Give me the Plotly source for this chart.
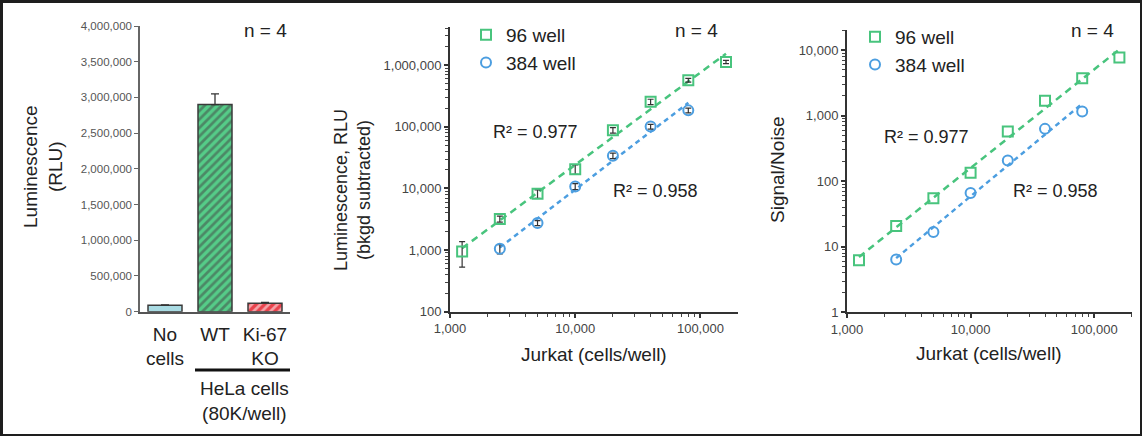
import numpy as np
import plotly.graph_objects as go

W, H = 1142, 436


def px(x):
    return x / W


def py(y):
    return 1 - y / H


FONT = "Liberation Sans, Arial, sans-serif"
TXT = "#222222"

# ---------------- data ----------------
# Panel A: HeLa bar chart
bar_categories = ["No<br>cells", "WT", "Ki-67<br>KO"]
bar_values = [90000, 2900000, 120000]
bar_errors = [6000, 150000, 10000]
bar_yticks = [0, 500000, 1000000, 1500000, 2000000, 2500000, 3000000, 3500000, 4000000]
bar_yticklabels = ["0", "500,000", "1,000,000", "1,500,000", "2,000,000",
                   "2,500,000", "3,000,000", "3,500,000", "4,000,000"]

# Panel B: Jurkat luminescence (bkgd subtracted)
cells_96 = [1250, 2500, 5000, 10000, 20000, 40000, 80000, 160000]
lum_96 = [950, 3200, 8200, 20500, 88000, 255000, 570000, 1130000]
lum_96_err = [420, 350, 1300, 3500, 9000, 25000, 40000, 70000]
cells_384 = [2500, 5000, 10000, 20000, 40000, 80000]
lum_384 = [1050, 2750, 10800, 34000, 101000, 185000]
lum_384_err = [180, 250, 1200, 3500, 9000, 16000]

# Panel C: Signal / Noise
sn_96 = [6.2, 20.7, 55, 134, 570, 1690, 3700, 7700]
sn_384 = [6.4, 16.8, 66, 207, 627, 1150]

x_ticks = [1000, 10000, 100000]
x_ticklabels = ["1,000", "10,000", "100,000"]
lum_ticks = [100, 1000, 10000, 100000, 1000000]
lum_ticklabels = ["100", "1,000", "10,000", "100,000", "1,000,000"]
sn_ticks = [1, 10, 100, 1000, 10000]
sn_ticklabels = ["1", "10", "100", "1,000", "10,000"]

series_names = ["96 well", "384 well"]
r2_96 = "R² = 0.977"
r2_384 = "R² = 0.958"

GREEN = "#48c47d"
BLUE = "#4c9ee0"


def fit_line(x, y):
    lx, ly = np.log10(x), np.log10(y)
    k, b = np.polyfit(lx, ly, 1)
    xs = np.array([min(x), max(x)], dtype=float)
    return xs, 10 ** (k * np.log10(xs) + b)


fig = go.Figure()

# ---------------- Panel A ----------------
fig.add_trace(go.Bar(
    x=bar_categories, y=bar_values, width=0.68, xaxis="x", yaxis="y",
    showlegend=False,
    marker=dict(color=["#a9dbe3", "#55cc88", "#e8424c"],
                line=dict(color="#3a3a3a", width=1.5),
                pattern=dict(shape=["", "/", "/"], fgcolor="white", size=6, solidity=0.45)),
    error_y=dict(type="data", array=bar_errors, arrayminus=[0, 0, 0], symmetric=False,
                 color="#333", thickness=1.3, width=4),
))

# ---------------- trend lines ----------------
for xs_, ys_, col, dash, ax in [(cells_96, lum_96, GREEN, "7px,5px", "2"),
                                (cells_384, lum_384, BLUE, "5px,4px", "2"),
                                (cells_96, sn_96, GREEN, "7px,5px", "3"),
                                (cells_384, sn_384, BLUE, "5px,4px", "3")]:
    lx, ly = fit_line(xs_, ys_)
    fig.add_trace(go.Scatter(x=lx, y=ly, mode="lines", showlegend=False,
                             line=dict(color=col, width=2.5, dash=dash),
                             xaxis="x" + ax, yaxis="y" + ax, hoverinfo="skip"))

# ---------------- Panel B ----------------
fig.add_trace(go.Scatter(
    x=cells_96, y=lum_96, mode="markers", name=series_names[0], legend="legend",
    xaxis="x2", yaxis="y2",
    marker=dict(symbol="square-open", size=10, color=GREEN, line=dict(width=2)),
    error_y=dict(type="data", array=lum_96_err, color="#333", thickness=1.2, width=3)))
fig.add_trace(go.Scatter(
    x=cells_384, y=lum_384, mode="markers", name=series_names[1], legend="legend",
    xaxis="x2", yaxis="y2",
    marker=dict(symbol="circle-open", size=10, color=BLUE, line=dict(width=2)),
    error_y=dict(type="data", array=lum_384_err, color="#333", thickness=1.2, width=3)))

# ---------------- Panel C ----------------
fig.add_trace(go.Scatter(
    x=cells_96, y=sn_96, mode="markers", name=series_names[0], legend="legend2",
    xaxis="x3", yaxis="y3",
    marker=dict(symbol="square-open", size=10, color=GREEN, line=dict(width=2))))
fig.add_trace(go.Scatter(
    x=cells_384, y=sn_384, mode="markers", name=series_names[1], legend="legend2",
    xaxis="x3", yaxis="y3",
    marker=dict(symbol="circle-open", size=10, color=BLUE, line=dict(width=2))))


def log_axis(rng, dom, anchor, tv, tt):
    return dict(type="log", range=rng, domain=dom, anchor=anchor, automargin=False,
                showline=True, linecolor="#333", linewidth=2, mirror=False,
                ticks="outside", ticklen=4, tickcolor="#333", tickwidth=1.5,
                tickvals=tv, ticktext=tt,
                tickfont=dict(size=13, color="#444", family=FONT),
                showgrid=False, zeroline=False,
                minor=dict(ticks="outside", ticklen=3, tickcolor="#444", tickwidth=1,
                           dtick="D1", showgrid=False))


ydomB = [py(311.7), py(27)]
ydomC = [py(312.3), py(30)]

layout = dict(
    width=W, height=H, autosize=False,
    margin=dict(l=0, r=0, t=0, b=0, pad=0, autoexpand=False),
    paper_bgcolor="#1e1e1e", plot_bgcolor="white",
    font=dict(family=FONT, color=TXT),
    xaxis=dict(domain=[px(140), px(290)], anchor="y", range=[-0.5, 2.5], automargin=False,
               showline=True, linecolor="#555", linewidth=2, ticks="",
               tickfont=dict(size=19, color=TXT), ticklabelstandoff=4,
               showgrid=False, zeroline=False),
    yaxis=dict(domain=[py(311.7), py(26)], anchor="x", range=[0, 4000000], automargin=False,
               showline=True, linecolor="#666", linewidth=1.5,
               ticks="outside", ticklen=4, tickcolor="#666",
               tickvals=bar_yticks, ticktext=bar_yticklabels,
               tickfont=dict(size=11.5, color="#555"),
               showgrid=False, zeroline=False),
    xaxis2=log_axis([3, 5.3], [px(450), px(738)], "y2", x_ticks, x_ticklabels),
    yaxis2=log_axis([2, 6.62], ydomB, "x2", lum_ticks, lum_ticklabels),
    xaxis3=log_axis([3, 5.306], [px(847), px(1132)], "y3", x_ticks, x_ticklabels),
    yaxis3=log_axis([0, 4.305], ydomC, "x3", sn_ticks, sn_ticklabels),
    legend=dict(x=px(466), y=py(16), xanchor="left", yanchor="top",
                font=dict(size=19, color=TXT), bgcolor="rgba(0,0,0,0)",
                tracegroupgap=0, itemwidth=30),
    legend2=dict(x=px(855), y=py(18), xanchor="left", yanchor="top",
                 font=dict(size=19, color=TXT), bgcolor="rgba(0,0,0,0)",
                 tracegroupgap=0, itemwidth=30),
)
fig.update_layout(**layout)

# white canvas inside dark frame
fig.add_shape(type="rect", xref="paper", yref="paper",
              x0=px(3), x1=px(1140), y0=py(434), y1=py(3),
              fillcolor="white", line=dict(width=0), layer="below")
# HeLa group bar
fig.add_shape(type="line", xref="x", yref="paper", x0=0.6, x1=2.54,
              y0=py(370), y1=py(370), line=dict(color="#111", width=3))


def ann(text, x, y, size=19, angle=0, color=TXT, align="center"):
    fig.add_annotation(text=text, x=px(x), y=py(y), xref="paper", yref="paper",
                       showarrow=False, textangle=angle, align=align,
                       font=dict(size=size, color=color, family=FONT),
                       xanchor="center", yanchor="middle")


ann("n = 4", 265, 30)
ann("n = 4", 696, 30)
ann("n = 4", 1092, 30)
ann("HeLa cells<br>(80K/well)", 244, 401)
ann("Luminescence<br>(RLU)", 43, 166, size=19, angle=-90)
ann("Luminescence, RLU<br>(bkgd subtracted)", 353, 190, size=18, angle=-90)
ann("Signal/Noise", 777, 170, size=19, angle=-90)
ann("Jurkat (cells/well)", 594, 354)
ann("Jurkat (cells/well)", 989, 353)
ann(r2_96, 535, 132, size=18)
ann(r2_384, 655, 191, size=18)
ann(r2_96, 926, 137, size=18)
ann(r2_384, 1055, 191, size=18)

fig.write_html("out.html", config={"displayModeBar": False},
               post_script="document.body.style.margin='0';document.body.style.overflow='hidden';")
